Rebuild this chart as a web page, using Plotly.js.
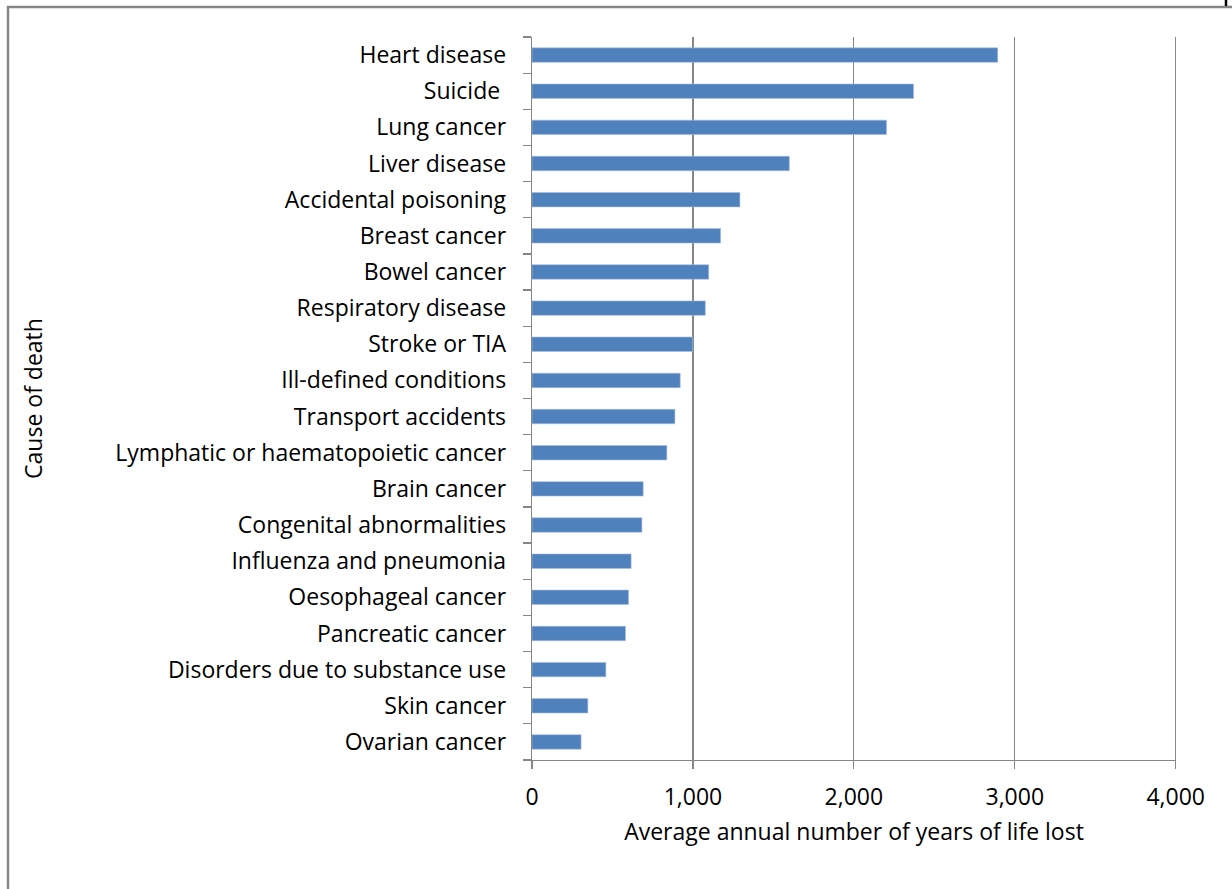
<!DOCTYPE html>
<html>
<head>
<meta charset="utf-8">
<script src="https://cdn.plot.ly/plotly-3.0.1.min.js"></script>
<style>html,body{margin:0;padding:0;background:#fff;}#chart{width:1232px;height:889px;}</style>
</head>
<body>
<div id="chart"></div>
<script>
const causes = [
  "Heart disease", "Suicide ", "Lung cancer", "Liver disease", "Accidental poisoning",
  "Breast cancer", "Bowel cancer", "Respiratory disease", "Stroke or TIA", "Ill-defined conditions",
  "Transport accidents", "Lymphatic or haematopoietic cancer", "Brain cancer", "Congenital abnormalities",
  "Influenza and pneumonia", "Oesophageal cancer", "Pancreatic cancer", "Disorders due to substance use",
  "Skin cancer", "Ovarian cancer"
];
const yearsLost = [
  2894, 2371, 2203, 1599, 1292,
  1172, 1098, 1077, 998, 921,
  888, 838, 691, 683,
  616, 600, 581, 459,
  347, 305
];
const xTickValues = [0, 1000, 2000, 3000, 4000];
const xTickLabels = ["0", "1,000", "2,000", "3,000", "4,000"];
const xMax = 4000;

const W = 1232, H = 889;
const L = 532, R = 1176, T = 37, B = 760;
const px = x => (x - L) / (R - L);
const py = y => (B - y) / (B - T);

const font = {family: "'Open Sans', sans-serif", size: 23, color: "#000"};
const gray = "#868686";

const trace = {
  type: "bar",
  orientation: "h",
  x: yearsLost,
  y: causes,
  marker: {color: "#4F81BD", line: {color: "#A7BEDE", width: 0.6}},
  hoverinfo: "x+y"
};

const layout = {
  width: W, height: H,
  margin: {l: L, r: W - R, t: T, b: H - B, pad: 0},
  paper_bgcolor: "#fff",
  plot_bgcolor: "#fff",
  font: font,
  showlegend: false,
  bargap: 0.6,
  xaxis: {
    range: [0, xMax + 2],
    tickvals: xTickValues,
    ticktext: xTickLabels,
    showgrid: true,
    gridcolor: gray,
    gridwidth: 1.3,
    zeroline: false,
    showline: true,
    linecolor: gray,
    linewidth: 1.3,
    ticks: "outside",
    ticklen: 8,
    tickwidth: 1.3,
    tickcolor: gray,
    ticklabelstandoff: 8,
    tickfont: font,
    title: {text: "Average annual number of years of life lost", font: font, standoff: 13},
    fixedrange: true
  },
  yaxis: {
    type: "category",
    categoryorder: "array",
    categoryarray: causes.slice().reverse(),
    autorange: false,
    range: [-0.5, causes.length - 0.5],
    showgrid: false,
    zeroline: false,
    showline: true,
    linecolor: gray,
    linewidth: 1.3,
    ticks: "outside",
    tickson: "boundaries",
    ticklen: 8,
    tickwidth: 1.3,
    tickcolor: gray,
    ticklabelstandoff: 20,
    tickfont: font,
    title: {text: "Cause of death", font: font, standoff: 66},
    fixedrange: true
  },
  shapes: [
    {type: "line", xref: "x", yref: "paper", x0: xMax, x1: xMax, y0: 0, y1: 1, line: {color: gray, width: 1.3}},
    {type: "line", xref: "paper", yref: "paper", x0: px(8), x1: px(8), y0: py(6), y1: py(900), line: {color: gray, width: 2.5}},
    {type: "line", xref: "paper", yref: "paper", x0: px(7), x1: px(1240), y0: py(7), y1: py(7), line: {color: gray, width: 2.5}},
    {type: "line", xref: "paper", yref: "paper", x0: px(1226), x1: px(1226), y0: py(-2), y1: py(6), line: {color: "#000", width: 2.5}}
  ]
};

Plotly.newPlot("chart", [trace], layout, {displayModeBar: false, staticPlot: true});
</script>
</body>
</html>
